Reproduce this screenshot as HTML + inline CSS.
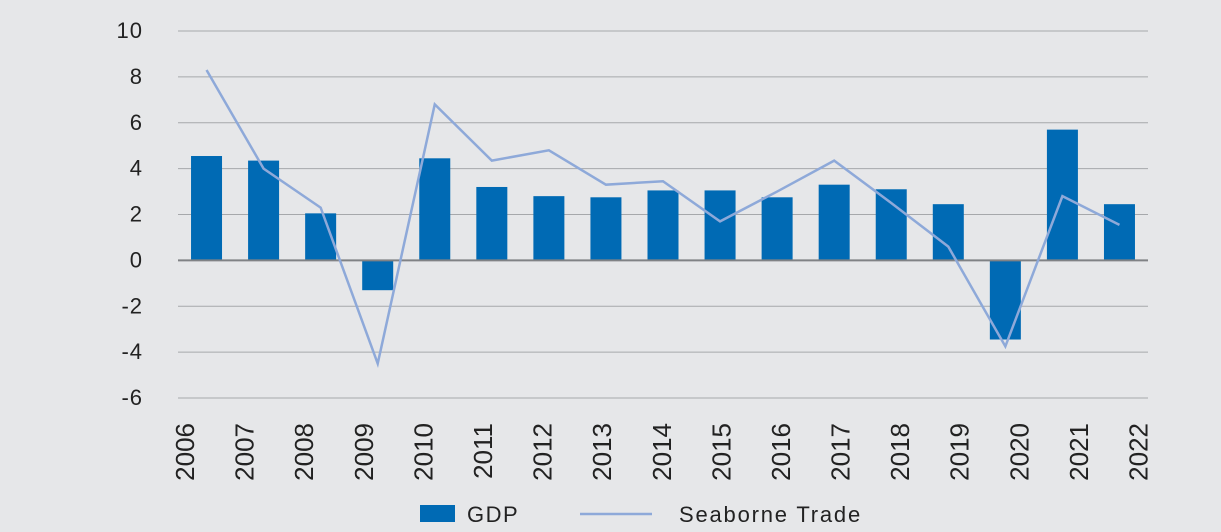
<!DOCTYPE html>
<html><head><meta charset="utf-8"><style>
html,body{margin:0;padding:0;background:#e6e7e9;}
svg{display:block;font-family:"Liberation Sans",sans-serif;}
</style></head><body>
<svg id="chart" width="1221" height="532">
<rect width="1221" height="532" fill="#e6e7e9"/>
<g id="grid"></g><g id="bars"></g><g id="zero"></g><g id="line"></g><g id="labels"></g>
<g>
<rect x="420" y="505" width="35" height="17" fill="#006ab4"/>
<text x="467" y="522" font-size="22" letter-spacing="1.5" fill="#222">GDP</text>
<line x1="580" y1="514" x2="652" y2="514" stroke="#8ea9d9" stroke-width="2.5"/>
<text x="679" y="522" font-size="22" letter-spacing="1.8" fill="#222">Seaborne Trade</text>
</g>
</svg>
<script>
const categories=["2006","2007","2008","2009","2010","2011","2012","2013","2014","2015","2016","2017","2018","2019","2020","2021","2022"];
const gdp=[4.55,4.35,2.05,-1.3,4.45,3.2,2.8,2.75,3.05,3.05,2.75,3.3,3.1,2.45,-3.45,5.7,2.45];
const seaborne=[8.3,4.0,2.3,-4.5,6.8,4.35,4.8,3.3,3.45,1.7,3.0,4.35,2.5,0.6,-3.75,2.8,1.55];
const yTicks=[10,8,6,4,2,0,-2,-4,-6];
const NS="http://www.w3.org/2000/svg";
const x0=178,x1=1148,yTop=31,yBot=398,yMax=10,yMin=-6;
const band=(x1-x0)/categories.length;
function xc(i){return x0+band*(i+0.5);}
function xl(i){return 184.5+(1138-184.5)*i/(categories.length-1);}
function y(v){return yTop+(yMax-v)/(yMax-yMin)*(yBot-yTop);}
function mk(t,a,p){const e=document.createElementNS(NS,t);for(const k in a)e.setAttribute(k,a[k]);p.appendChild(e);return e;}
const grid=document.getElementById('grid'),labels=document.getElementById('labels');
yTicks.forEach(v=>{
 if(v!==0){const l=mk('line',{x1:x0,x2:x1,y1:y(v),y2:y(v),stroke:'#a6a8ab','stroke-width':1},grid);
 
 }
 const t=mk('text',{x:143,y:y(v)+7,'text-anchor':'end','font-size':22,'letter-spacing':1,fill:'#222'},labels);
 t.textContent=v;
 
 
});
const bars=document.getElementById('bars');
gdp.forEach((v,i)=>{
 const r=mk('rect',{x:xc(i)-15.5,width:31,y:Math.min(y(v),y(0)),height:Math.abs(y(v)-y(0)),fill:'#006ab4'},bars);
 
 
});
const z=mk('line',{x1:x0,x2:x1,y1:y(0),y2:y(0),stroke:'#808285','stroke-width':2},document.getElementById('zero'));


const p=mk('polyline',{points:seaborne.map((v,i)=>xc(i)+','+y(v)).join(' '),fill:'none',stroke:'#8ea9d9','stroke-width':2.5},document.getElementById('line'));


categories.forEach((c,i)=>{
 const t=mk('text',{transform:'translate('+(xl(i)+9.5)+',423) rotate(-90)','text-anchor':'end','font-size':26,fill:'#222'},labels);
 t.textContent=c;
 
 
});
</script>
</body></html>
